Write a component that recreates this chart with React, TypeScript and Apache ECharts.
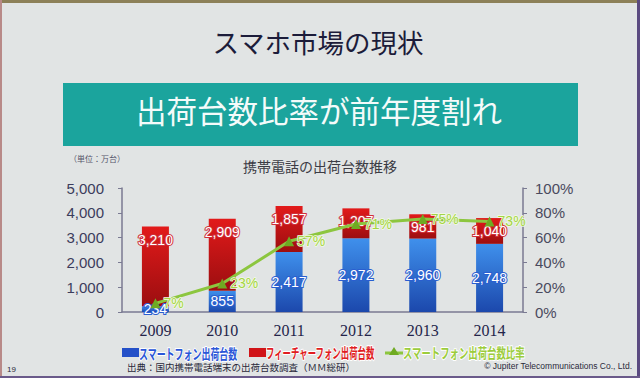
import React, { useEffect, useRef } from "react";
import * as echarts from "echarts";

const years = ["2009", "2010", "2011", "2012", "2013", "2014"];
const smartphone = [234, 855, 2417, 2972, 2960, 2748];
const featurePhone = [3210, 2909, 1857, 1207, 981, 1040];
const smartRatio = [7, 23, 57, 71, 75, 73];
const legendNames = ["スマートフォン出荷台数", "フィーチャーフォン出荷台数", "スマートフォン出荷台数比率"];

const CJK = '"Noto Sans CJK JP", "Noto Sans", sans-serif';

export default function App() {
  const ref = useRef<HTMLDivElement>(null);
  useEffect(() => {
    if (!ref.current) return;
    const chart = echarts.init(ref.current, null, { renderer: "svg" });
    const blueGrad = new echarts.graphic.LinearGradient(0, 0, 0, 1, [
      { offset: 0, color: "#3f90ec" },
      { offset: 1, color: "#1c48ac" },
    ]);
    const redGrad = new echarts.graphic.LinearGradient(0, 0, 0, 1, [
      { offset: 0, color: "#e21a1a" },
      { offset: 1, color: "#9c0e10" },
    ]);
    const fmt = (v: number) => v.toLocaleString("en-US");
    chart.setOption({
      animation: false,
      backgroundColor: "#e1e4e4",
      grid: { left: 122, right: 117, top: 188, bottom: 66 },
      xAxis: {
        type: "category",
        data: years,
        axisLine: { lineStyle: { color: "#7a7a92", width: 1.5 } },
        axisTick: { length: 5, lineStyle: { color: "#7a7a92" } },
        axisLabel: { fontFamily: '"Liberation Serif", serif', fontSize: 16, color: "#24244a", margin: 10 },
      },
      yAxis: [
        {
          type: "value",
          min: 0,
          max: 5000,
          interval: 1000,
          splitLine: { show: false },
          axisLine: { show: true, lineStyle: { color: "#7a7a92", width: 1.5 } },
          axisTick: { show: true, length: 4, lineStyle: { color: "#7a7a92" } },
          axisLabel: { formatter: (v: number) => fmt(v), fontFamily: '"Liberation Sans", Arial, sans-serif', fontSize: 15, color: "#3c3c5c", margin: 18 },
        },
        {
          type: "value",
          min: 0,
          max: 100,
          interval: 20,
          splitLine: { show: false },
          axisLine: { show: true, lineStyle: { color: "#7a7a92", width: 1.5 } },
          axisTick: { show: true, length: 4, lineStyle: { color: "#7a7a92" } },
          axisLabel: { formatter: "{value}%", fontFamily: '"Liberation Sans", Arial, sans-serif', fontSize: 15, color: "#4a4a5e", margin: 12 },
        },
      ],
      series: [
        {
          name: legendNames[0],
          type: "bar",
          stack: "phones",
          barWidth: 27,
          data: smartphone,
          itemStyle: { color: blueGrad },
          label: {
            show: true,
            position: "inside",
            formatter: (p: any) => fmt(p.value),
            color: "#ffffff",
            fontFamily: '"Liberation Sans", Arial, sans-serif',
            fontSize: 14,
            textBorderColor: "#2a5ed0",
            textBorderWidth: 2,
          },
          z: 2,
        },
        {
          name: legendNames[1],
          type: "bar",
          stack: "phones",
          barWidth: 27,
          data: featurePhone,
          itemStyle: { color: redGrad },
          label: {
            show: true,
            position: "insideTop",
            distance: 6,
            formatter: (p: any) => fmt(p.value),
            color: "#ffffff",
            fontFamily: '"Liberation Sans", Arial, sans-serif',
            fontSize: 14,
            textBorderColor: "#d0303a",
            textBorderWidth: 2,
          },
          z: 2,
        },
        {
          name: legendNames[2],
          type: "line",
          yAxisIndex: 1,
          data: smartRatio,
          symbol: "triangle",
          symbolSize: 10,
          lineStyle: { color: "#8cc63f", width: 3 },
          itemStyle: { color: "#6faa22" },
          label: {
            show: true,
            position: "right",
            distance: 3,
            formatter: "{c}%",
            color: "#a4d444",
            fontFamily: '"Liberation Sans", Arial, sans-serif',
            fontSize: 14,
            textBorderColor: "#f4fbe6",
            textBorderWidth: 1.5,
          },
          z: 5,
        },
      ],
      graphic: [
        { type: "rect", shape: { x: 0, y: 0, width: 640, height: 3 }, style: { fill: "#8c8058" }, silent: true },
        { type: "rect", shape: { x: 0, y: 0, width: 2, height: 378 }, style: { fill: "#b88a88" }, silent: true },
        { type: "rect", shape: { x: 637, y: 0, width: 3, height: 378 }, style: { fill: "#5a4a80" }, silent: true },
        { type: "rect", shape: { x: 0, y: 376, width: 640, height: 2 }, style: { fill: "#6a5a8a" }, silent: true },
        {
          type: "text",
          x: 318,
          y: 41,
          style: { text: "スマホ市場の現状", fontSize: 26.5, fontFamily: CJK, fill: "#1c1c3a", textAlign: "center", textVerticalAlign: "middle" },
        },
        { type: "rect", shape: { x: 63, y: 83, width: 515, height: 63 }, style: { fill: "#1ba49d" } },
        {
          type: "text",
          x: 319,
          y: 110,
          style: { text: "出荷台数比率が前年度割れ", fontSize: 30.5, fontFamily: CJK, fill: "#f4fbfa", textAlign: "center", textVerticalAlign: "middle" },
        },
        {
          type: "text",
          x: 69,
          y: 158,
          style: { text: "（単位：万台）", fontSize: 8, fontFamily: CJK, fill: "#55556a", textAlign: "left", textVerticalAlign: "middle" },
        },
        {
          type: "text",
          x: 320,
          y: 166,
          style: { text: "携帯電話の出荷台数推移", fontSize: 14, fontFamily: CJK, fill: "#3c3c44", textAlign: "center", textVerticalAlign: "middle" },
        },
        // legend
        { type: "rect", shape: { x: 122, y: 348, width: 17, height: 9 }, style: { fill: "#2450c8" } },
        {
          type: "text",
          x: 139,
          y: 352,
          scaleX: 0.64,
          style: { text: legendNames[0], fontSize: 14, fontWeight: "bold", fontFamily: CJK, fill: "#2a56d8", stroke: "#ffffff", lineWidth: 2, textAlign: "left", textVerticalAlign: "middle" },
        },
        { type: "rect", shape: { x: 249, y: 348, width: 17, height: 9 }, style: { fill: "#d01418" } },
        {
          type: "text",
          x: 266,
          y: 352,
          scaleX: 0.6,
          style: { text: legendNames[1], fontSize: 14, fontWeight: "bold", fontFamily: CJK, fill: "#e01c22", stroke: "#ffffff", lineWidth: 2, textAlign: "left", textVerticalAlign: "middle" },
        },
        { type: "line", shape: { x1: 385, y1: 353, x2: 403, y2: 353 }, style: { stroke: "#8cc63f", lineWidth: 3 } },
        { type: "polygon", shape: { points: [[394, 347], [399, 355], [389, 355]] }, style: { fill: "#6faa22" } },
        {
          type: "text",
          x: 403,
          y: 352,
          scaleX: 0.67,
          style: { text: legendNames[2], fontSize: 14, fontWeight: "bold", fontFamily: CJK, fill: "#9ccc3c", stroke: "#ffffff", lineWidth: 2, textAlign: "left", textVerticalAlign: "middle" },
        },
        {
          type: "text",
          x: 127,
          y: 367,
          style: { text: "出典：国内携帯電話端末の出荷台数調査（ＭＭ総研）", fontSize: 9.5, fontFamily: CJK, fill: "#2a2a3a", textAlign: "left", textVerticalAlign: "middle" },
        },
        {
          type: "text",
          x: 632,
          y: 366,
          style: { text: "© Jupiter Telecommunications Co., Ltd.", fontSize: 8.5, fontFamily: '"Liberation Sans", Arial, sans-serif', fill: "#2a2a3a", textAlign: "right", textVerticalAlign: "middle" },
        },
        {
          type: "text",
          x: 7,
          y: 369,
          style: { text: "19", fontSize: 8, fontFamily: '"Liberation Sans", Arial, sans-serif', fill: "#2a2a3a", textAlign: "left", textVerticalAlign: "middle" },
        },
      ],
    });
    return () => chart.dispose();
  }, []);
  return (
    <div
      ref={ref}
      style={{ position: "fixed", left: 0, top: 0, width: 640, height: 378 }}
    />
  );
}
